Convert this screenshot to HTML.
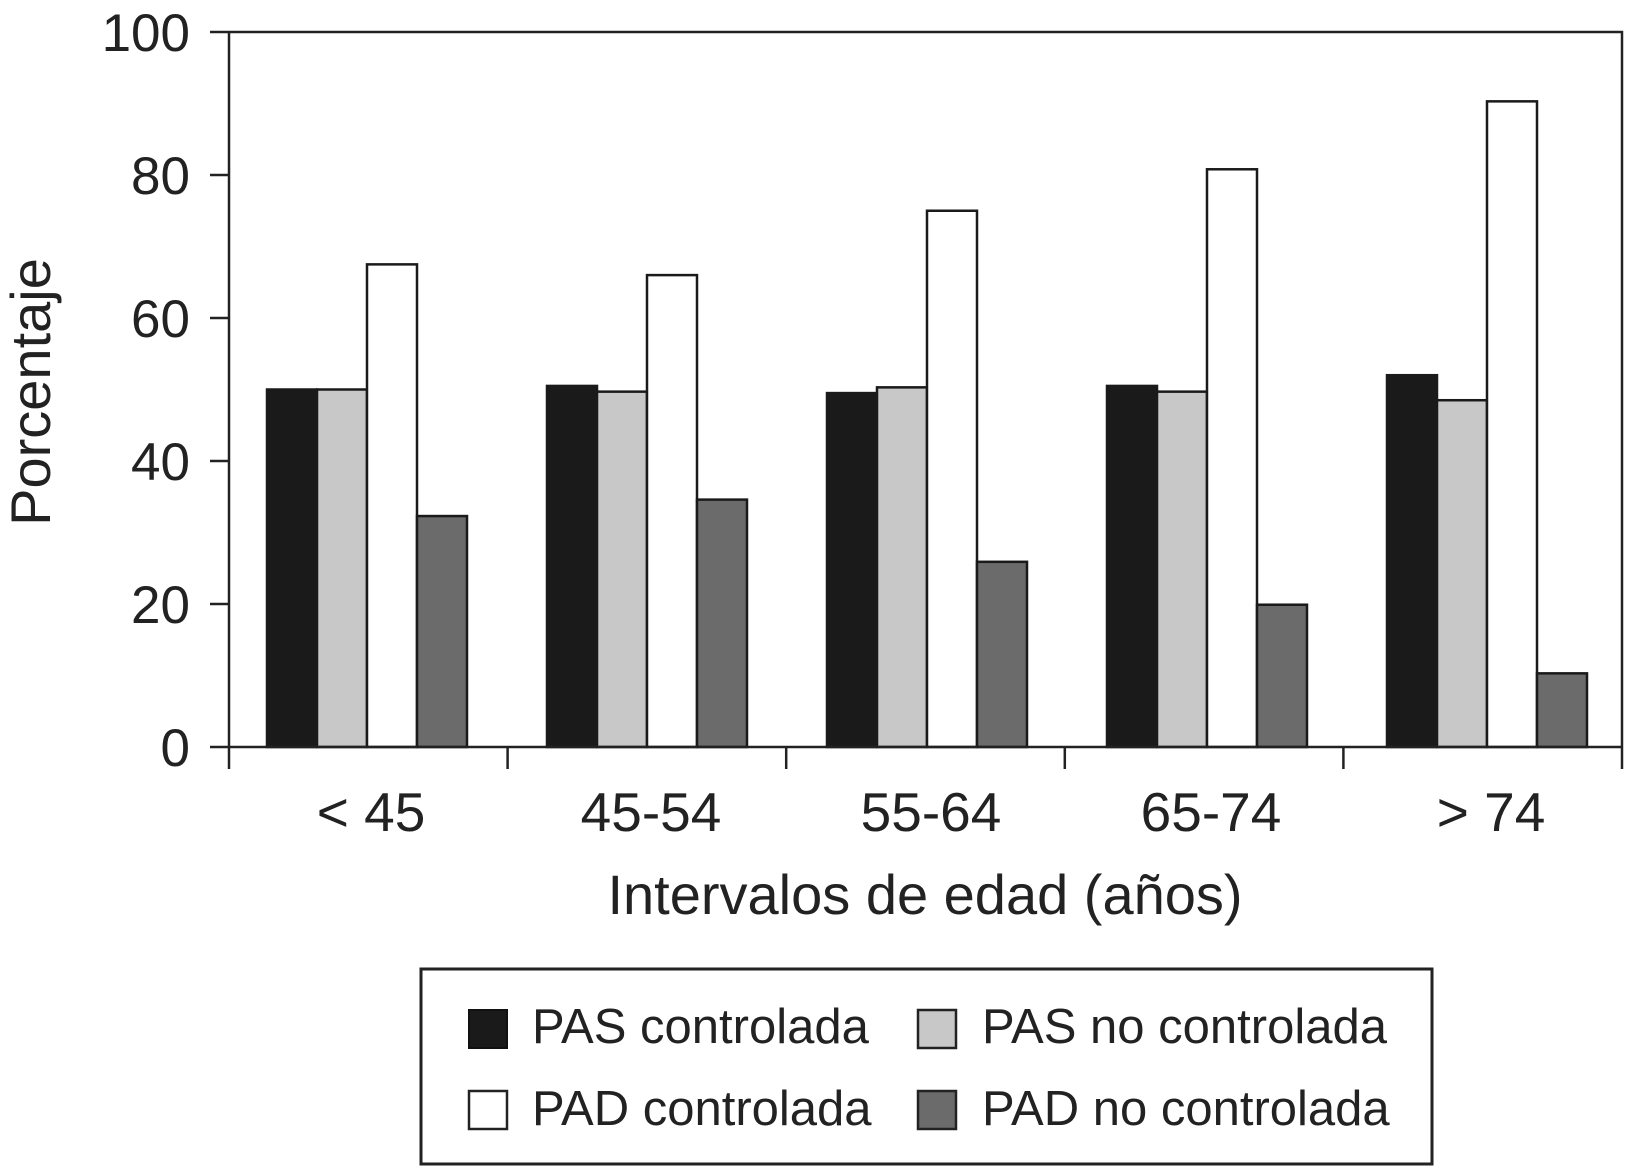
<!DOCTYPE html>
<html><head><meta charset="utf-8"><style>html,body{margin:0;padding:0;background:#fff}svg{display:block;font-family:"Liberation Sans",sans-serif}</style></head>
<body>
<svg id="chart" width="1625" height="1166" viewBox="0 0 1625 1166" xmlns="http://www.w3.org/2000/svg">
<g id="plot"></g>
<text transform="translate(50,392) rotate(-90)" text-anchor="middle" font-size="56" fill="#222">Porcentaje</text>
<text x="925" y="914" text-anchor="middle" font-size="56" fill="#222">Intervalos de edad (años)</text>
<g>
<rect x="421" y="969" width="1011" height="195" fill="#fff" stroke="#222" stroke-width="3"/>
<g><rect x="469" y="1010" width="38" height="38" fill="#1a1a1a" stroke="#111" stroke-width="2"/><text x="532" y="1043" font-size="49" fill="#222">PAS controlada</text></g>
<g><rect x="918" y="1010" width="38" height="38" fill="#c8c8c8" stroke="#222" stroke-width="2.5"/><text x="982" y="1043" font-size="49" fill="#222">PAS no controlada</text></g>
<g><rect x="469" y="1091" width="38" height="38" fill="#fff" stroke="#222" stroke-width="2.5"/><text x="532" y="1125" font-size="49" fill="#222">PAD controlada</text></g>
<g><rect x="918" y="1091" width="38" height="38" fill="#6b6b6b" stroke="#222" stroke-width="2.5"/><text x="982" y="1125" font-size="49" fill="#222">PAD no controlada</text></g>
</g>
</svg>
<script>
const categories = ["< 45","45-54","55-64","65-74","> 74"];
const pasControlada = [50, 50.5, 49.5, 50.5, 52];
const pasNoControlada = [50, 49.7, 50.3, 49.7, 48.5];
const padControlada = [67.5, 66, 75, 80.8, 90.3];
const padNoControlada = [32.3, 34.6, 25.9, 19.9, 10.3];
const yTicks = [0, 20, 40, 60, 80, 100];

const NS = "http://www.w3.org/2000/svg";
const plot = document.getElementById("plot");
const X0 = 229, X1 = 1622, Y0 = 747, Y1 = 32;
const groupW = (X1 - X0) / categories.length;
const step = 280;
const barW = 50;
function y(v){ return Y0 - (v / 100) * (Y0 - Y1); }
function gx(i){ return X0 + 138 + step * i; }
function mk(tag, attrs){ const e = document.createElementNS(NS, tag); for (const k in attrs) e.setAttribute(k, attrs[k]); plot.appendChild(e); return e; }

const series = [
  {vals: pasControlada, fill: "#1a1a1a", name: "pas-controlada"},
  {vals: pasNoControlada, fill: "#c8c8c8", name: "pas-no-controlada"},
  {vals: padControlada, fill: "#ffffff", name: "pad-controlada"},
  {vals: padNoControlada, fill: "#6b6b6b", name: "pad-no-controlada"}
];
categories.forEach((c, i) => {
  series.forEach((s, j) => {
    const x = gx(i) + (j - 2) * barW;
    const r = mk("rect", {x: x, y: y(s.vals[i]), width: barW, height: Y0 - y(s.vals[i]), fill: s.fill, stroke: "#1a1a1a", "stroke-width": 2.5});
    
    
  });
  const t = mk("text", {x: gx(i) + 4, y: 831, "text-anchor": "middle", "font-size": 55, fill: "#222"});
  t.textContent = c;
  
  
});
for (let i = 0; i <= categories.length; i++) {
  const xt = X0 + groupW * i;
  const l = mk("line", {x1: xt, x2: xt, y1: Y0, y2: Y0 + 22, stroke: "#222", "stroke-width": 2.5});
  
  
}
yTicks.forEach(v => {
  const l = mk("line", {x1: X0 - 19, x2: X0, y1: y(v), y2: y(v), stroke: "#222", "stroke-width": 2.5});
  
  
  const t = mk("text", {x: 190, y: y(v) + 19, "text-anchor": "end", "font-size": 53, fill: "#222"});
  t.textContent = v;
  
  
});
const ax = mk("path", {d: `M${X0},${Y1} H${X1} V${Y0} M${X0},${Y1} V${Y0} H${X1}`, fill: "none", stroke: "#222", "stroke-width": 2.5});


</script>
</body></html>
